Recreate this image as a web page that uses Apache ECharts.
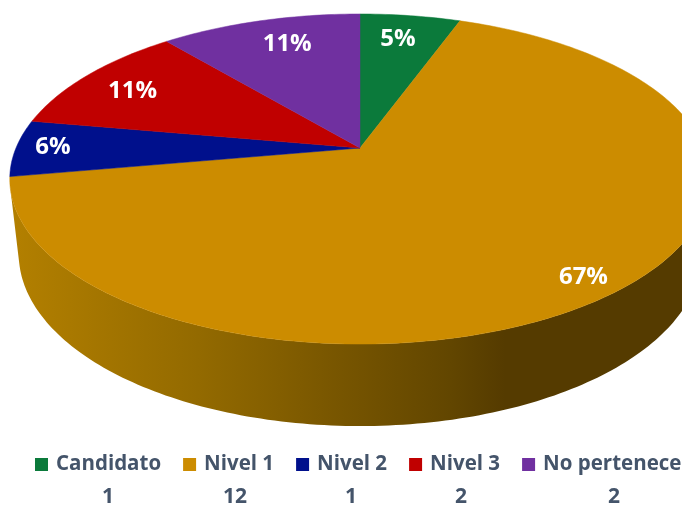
<!DOCTYPE html>
<html><head><meta charset="utf-8">
<style>html,body{margin:0;padding:0;background:#fff}#c{width:682px;height:506px}</style>
<script src="https://cdn.jsdelivr.net/npm/echarts@6/dist/echarts.min.js"></script>
</head><body><div id="c"></div>
<script>
const categories = ['Candidato','Nivel 1','Nivel 2','Nivel 3','No pertenece'];
const counts = [1,12,1,2,2];
const percentLabels = ['5%','67%','6%','11%','11%'];

const colors = ['#0b7a3b','#cc8c00','#00108c','#c00000','#7030a0'];
const labelRadius = [0.80,0.897,0.895,0.81,0.79];
const labelAngle = [9.1,141,270.8,298.8,342.2];
const countX = [108,235,351,461,614];
const FONT = '"Open Sans","Noto Sans",sans-serif';
const TEXT = '#44546a';
const wallStops = [[0,'#b58100'],[0.29,'#936a00'],[0.5,'#775500'],[0.66,'#624600'],[0.74,'#553b00'],[1,'#553b00']];

// Perspective of the pie plane: unit circle -> picture
const cx=360, apexY=148, d=344, a=131.4, c=-0.1879;
const topE={x:360,y:179,rx:350,ry:165}, botE={x:360,y:254,rx:341,ry:172};
const front=[108,256];
const rad=t=>t*Math.PI/180;
function plane(t,r){const X=r*Math.sin(rad(t)),Y=-r*Math.cos(rad(t)),w=1+c*Y;
  return [cx+d*X/w,(a*Y+apexY)/w];}
function bottom(t){const p=plane(t,1),u=(p[0]-topE.x)/topE.rx,v=(p[1]-topE.y)/topE.ry;
  return [botE.x+botE.rx*u,botE.y+botE.ry*v];}

const total=counts.reduce((s,v)=>s+v,0);
let acc=0;
const series=categories.map((name,i)=>{
  const start=acc/total*360; acc+=counts[i]; const end=acc/total*360;
  return {
    type:'custom',name,coordinateSystem:'cartesian2d',silent:true,
    itemStyle:{color:colors[i]},
    data:[[start,end,i]],
    renderItem(params,api){
      const s=api.value(0),e=api.value(1),k=api.value(2),kids=[];
      const from=Math.max(s,front[0]),to=Math.min(e,front[1]);
      if(to>from){
        const pts=[];
        for(let t=from;t<to;t+=1)pts.push(api.coord(plane(t,1)));
        pts.push(api.coord(plane(to,1)));
        pts.push(api.coord(bottom(to)));
        for(let t=to;t>from;t-=1)pts.push(api.coord(bottom(t)));
        pts.push(api.coord(bottom(from)));
        kids.push({type:'polygon',shape:{points:pts},style:{
          fill:new echarts.graphic.LinearGradient(0,0,682,0,
            wallStops.map(w=>({offset:w[0],color:w[1]})),true)}});
      }
      const face=[api.coord(plane(0,0))];
      for(let t=s;t<e;t+=1)face.push(api.coord(plane(t,1)));
      face.push(api.coord(plane(e,1)));
      kids.push({type:'polygon',shape:{points:face},
        style:{fill:colors[k],stroke:colors[k],lineWidth:0.5}});
      const lp=api.coord(plane(labelAngle[k],labelRadius[k]));
      kids.push({type:'text',z2:10,style:{x:lp[0],y:lp[1]+1,text:percentLabels[k],
        fill:'#fff',font:'700 24px '+FONT,align:'center',verticalAlign:'middle'}});
      return {type:'group',children:kids};
    }
  };
});

const chart=echarts.init(document.getElementById('c'),null,{renderer:'canvas'});
chart.setOption({
  animation:false,
  grid:{left:0,right:0,top:0,bottom:0},
  xAxis:{type:'value',min:0,max:682,show:false},
  yAxis:{type:'value',min:0,max:506,inverse:true,show:false},
  legend:{left:35,top:454,selectedMode:false,itemWidth:13,itemHeight:13,itemGap:22,
    icon:'rect',padding:0,
    data:categories,
    textStyle:{color:TEXT,fontFamily:FONT,fontWeight:700,fontSize:20.5,padding:[0,0,0,3]}},
  graphic:counts.map((v,i)=>({type:'text',x:countX[i],y:497,silent:true,
    style:{text:String(v),fill:TEXT,font:'700 21px '+FONT,align:'center',verticalAlign:'middle'}})),
  series
});
</script></body></html>
